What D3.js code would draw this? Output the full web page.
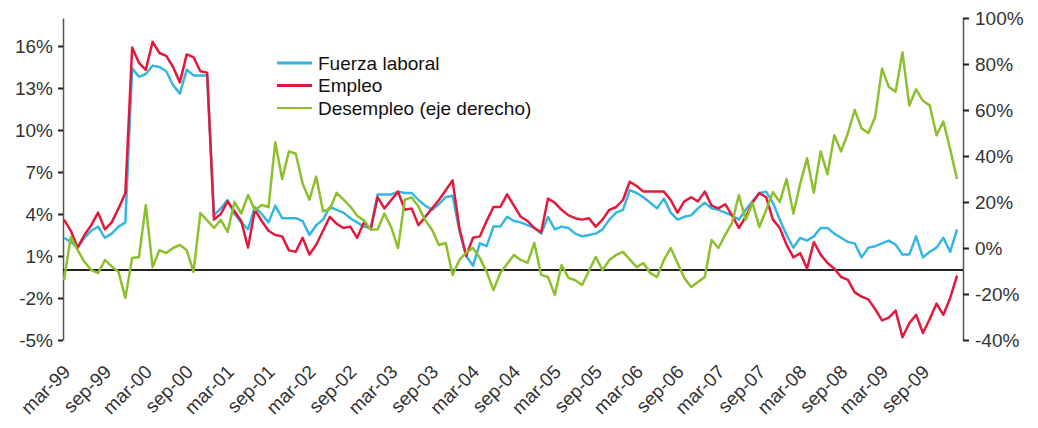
<!DOCTYPE html>
<html>
<head>
<meta charset="utf-8">
<script src="https://cdn.jsdelivr.net/npm/d3@7"></script>
<style>
  html, body { margin: 0; padding: 0; background: #fff; }
  svg { display: block; font-family: "Liberation Sans", Arial, sans-serif; }
</style>
</head>
<body>
<div id="chart"></div>
<script>
// tick labels on the x axis, one every 6 months starting at index 0 (mar-99)
const xLabels = ["mar-99", "sep-99", "mar-00", "sep-00", "mar-01", "sep-01", "mar-02", "sep-02",
    "mar-03", "sep-03", "mar-04", "sep-04", "mar-05", "sep-05", "mar-06", "sep-06",
    "mar-07", "sep-07", "mar-08", "sep-08", "mar-09", "sep-09"];

const leftTicks = [-5, -2, 1, 4, 7, 10, 13, 16];
const rightTicks = [-40, -20, 0, 20, 40, 60, 80, 100];

// monthly series, mar-99 .. feb-10 (left axis, %)
const fuerzaLaboral = [
    2.3, 2.0, 1.6, 2.3, 2.8, 3.1, 2.3, 2.6, 3.1, 3.4, 14.4, 13.8, 14.0, 14.6, 14.5, 14.2, 13.2, 12.6, 14.3, 13.9, 13.9, 13.9,
    3.9, 4.4, 5.0, 4.0, 3.4, 2.9, 4.5, 4.0, 3.4, 4.6, 3.7, 3.7, 3.7, 3.5, 2.5, 3.2, 3.6, 4.5, 4.3, 4.1,
    3.7, 3.4, 3.1, 3.0, 5.4, 5.4, 5.4, 5.6, 5.5, 5.5, 5.0, 4.6,
    4.3, 4.7, 5.2, 5.3, 2.8, 1.0, 0.3, 1.9, 1.7, 3.1, 3.1, 3.8, 3.5, 3.4, 3.2, 3.0, 2.6, 3.8, 2.9, 3.1,
    3.0, 2.6, 2.4, 2.5, 2.6, 2.9, 3.6,
    4.1, 4.3, 5.7, 5.5, 5.2, 4.8, 4.4, 5.1, 4.1, 3.6, 3.8, 3.9, 4.4, 4.8, 4.4, 4.3, 4.1, 3.9, 3.6, 4.3,
    4.9, 5.5, 5.6, 4.8, 3.6, 2.5,
    1.6, 2.3, 2.1, 2.4, 3.0, 3.0, 2.6, 2.3, 2.0, 1.9, 0.9, 1.6, 1.7, 1.9, 2.1, 1.8, 1.1, 1.1, 2.4, 0.9,
    1.3, 1.6, 2.3, 1.3, 2.9
];

const empleo = [
    3.6, 2.8, 1.6, 2.5, 3.2, 4.1, 2.9, 3.4, 4.4, 5.5, 15.9, 14.8, 14.3, 16.3, 15.5, 15.3, 14.5, 13.4, 15.4, 15.2, 14.2, 14.1,
    3.6, 4.0, 4.9, 4.2, 3.5, 1.6, 4.3, 3.5, 2.8, 2.5, 2.4, 1.4, 1.3, 2.3, 1.1, 1.8, 2.8, 3.8, 3.3, 3.0,
    3.1, 2.3, 3.4, 2.9, 5.2, 4.4, 5.0, 5.6, 4.3, 4.4, 3.2, 3.8,
    4.4, 5.0, 5.7, 6.4, 3.0, 1.0, 2.3, 2.4, 3.5, 4.5, 4.5, 5.4, 4.6, 3.8, 3.5, 3.0, 2.7, 5.1, 4.8, 4.3,
    3.9, 3.7, 3.6, 3.7, 3.1, 3.6, 4.3,
    4.5, 5.0, 6.3, 6.0, 5.6, 5.6, 5.6, 5.6, 5.0, 4.1, 4.9, 5.2, 4.9, 5.6, 4.6, 4.4, 4.7, 3.9, 3.0, 3.8,
    4.8, 5.5, 5.2, 3.6, 3.0, 1.8,
    0.9, 1.2, 0.1, 2.0, 1.1, 0.5, 0.1, -0.5, -0.7, -1.6, -1.9, -2.1, -2.8, -3.6, -3.4, -2.9, -4.8, -3.8, -3.2, -4.5,
    -3.5, -2.4, -3.2, -2.0, -0.4
];

// right axis, %
const desempleo = [
    -13.9, 4.8, -0.9, -6, -9.6, -10.9, -5.2, -8.0, -10.4, -21.7, -4.3, -3.9, 18.7, -8.3, -0.9, -2.2, 0, 1.3, -0.9, -10.4, 15.2, 12,
    8.7, 12.2, 7.0, 20, 15, 23, 16.5, 18.7, 17.8, 46, 30, 42, 41, 28, 21, 31, 16, 17, 24, 21,
    18, 14, 12, 8, 8, 15, 9, 0, 21, 22, 18, 12,
    7.8, 1.3, 2.2, -11.7, -5.2, -2, 0, -4.3, -10.4, -18.3, -10.9, -7, -3, -5.2, -6.5, 2.2, -11.7, -12.6, -20.4, -7.4,
    -13, -14, -16.1, -10, -3.9, -9.6, -5.2,
    -3, -1.7, -5, -8.3, -6.5, -10.9, -12.6, -5.2, 0, -6.5, -13, -17, -14.8, -12.6, 3.5, 0, 5.7, 10.9, 23, 12.2,
    19.6, 9.1, 16.5, 24.3, 20, 30,
    15, 28, 39, 24, 42, 32, 49, 42, 50, 60, 52, 50, 57, 78, 70, 68, 85, 62, 69, 64,
    62, 49, 55, 43, 30
];

const series = [
    {name: "Fuerza laboral", values: fuerzaLaboral, color: "#35b6e2", axis: "left"},
    {name: "Empleo", values: empleo, color: "#e3183a", axis: "left"},
    {name: "Desempleo (eje derecho)", values: desempleo, color: "#8dbf2e", axis: "right"}
];

const width = 1038;
const height = 428;

const svg = d3.select("#chart").append("svg")
    .attr("width", width)
    .attr("height", height);

const x = d3.scaleLinear()
    .domain([0, fuerzaLaboral.length - 1])
    .range([64, 957]);

const yLeft = d3.scaleLinear()
    .domain([-5, 18])
    .range([340, 18]);

const yRight = d3.scaleLinear()
    .domain([-40, 100])
    .range([340, 18]);

const leftAxis = d3.axisLeft(yLeft)
    .tickValues(leftTicks)
    .tickFormat(d => d + "%")
    .tickSizeInner(5)
    .tickSizeOuter(0)
    .tickPadding(5);

const rightAxis = d3.axisRight(yRight)
    .tickValues(rightTicks)
    .tickFormat(d => d + "%")
    .tickSizeInner(6)
    .tickSizeOuter(0)
    .tickPadding(6);

const gLeft = svg.append("g")
    .attr("class", "y axis left")
    .attr("transform", "translate(63,0)")
    .call(leftAxis);

const gRight = svg.append("g")
    .attr("class", "y axis right")
    .attr("transform", "translate(963,0)")
    .call(rightAxis);

[gLeft, gRight].forEach(g => {
    g.select(".domain").attr("stroke", "#555").attr("stroke-width", 1.5);
    g.selectAll(".tick line").attr("stroke", "#222").attr("stroke-width", 2);
    g.selectAll(".tick text")
        .attr("fill", "#333")
        .style("font-size", "19px");
});

// x axis: labels only, rotated
const xAxis = d3.axisBottom(x)
    .tickValues(d3.range(0, xLabels.length * 6, 6))
    .tickFormat((d, i) => xLabels[i])
    .tickSize(0);

const gX = svg.append("g")
    .attr("class", "x axis")
    .attr("transform", "translate(0,340)")
    .call(xAxis);

gX.select(".domain").remove();
gX.selectAll(".tick text")
    .attr("x", 0)
    .attr("y", 0)
    .attr("dy", 0)
    .attr("transform", "translate(7,33) rotate(-45)")
    .style("text-anchor", "end")
    .style("font-size", "19px")
    .attr("fill", "#333");

// zero line of the left axis
svg.append("line")
    .attr("x1", 63)
    .attr("x2", 963)
    .attr("y1", yLeft(0))
    .attr("y2", yLeft(0))
    .attr("stroke", "#222")
    .attr("stroke-width", 2);

series.forEach(s => {
    const y = s.axis === "left" ? yLeft : yRight;
    const line = d3.line()
        .x((d, i) => x(i))
        .y(d => y(d));

    svg.append("path")
        .datum(s.values)
        .attr("fill", "none")
        .attr("stroke", s.color)
        .attr("stroke-width", 2.5)
        .attr("stroke-linejoin", "round")
        .attr("d", line);
});

// legend
const legend = svg.append("g")
    .attr("class", "legend")
    .attr("transform", "translate(277,63)");

const legendItem = legend.selectAll("g")
    .data(series)
    .enter().append("g")
    .attr("transform", (d, i) => "translate(0," + (i * 22.5) + ")");

legendItem.append("line")
    .attr("x1", 0)
    .attr("x2", 35)
    .attr("stroke", d => d.color)
    .attr("stroke-width", (d, i) => i === 2 ? 2 : 3);

legendItem.append("text")
    .attr("x", 41)
    .attr("dy", "0.35em")
    .style("font-size", "19px")
    .attr("fill", "#111")
    .text(d => d.name);
</script>
</body>
</html>
